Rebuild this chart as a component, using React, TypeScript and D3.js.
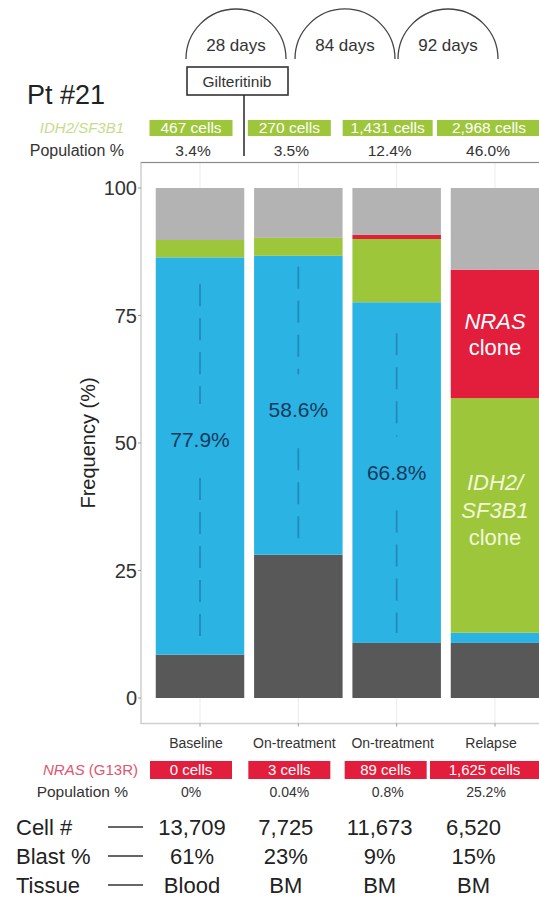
import React from "react";
import * as d3 from "d3";

// Time points (x categories)
const timepoints = ["Baseline", "On-treatment", "On-treatment", "Relapse"];

// Stacked segment values (% of cells), bottom to top
const otherLow = [8.5, 28.1, 10.8, 10.8];      // dark grey
const blastPop = [77.9, 58.6, 66.8, 2.0];      // blue
const idh2Pop = [3.4, 3.5, 12.4, 46.0];        // green (IDH2/SF3B1)
const nrasPop = [0, 0.04, 0.8, 25.2];          // red (NRAS)

// Value labels inside blue segments (null = none)
const blastLabels = ["77.9%", "58.6%", "66.8%", null];

// Annotation rows
const idh2Cells = ["467 cells", "270 cells", "1,431 cells", "2,968 cells"];
const idh2PopLabels = ["3.4%", "3.5%", "12.4%", "46.0%"];
const nrasCells = ["0 cells", "3 cells", "89 cells", "1,625 cells"];
const nrasPopLabels = ["0%", "0.04%", "0.8%", "25.2%"];
const cellCounts = ["13,709", "7,725", "11,673", "6,520"];
const blastPct = ["61%", "23%", "9%", "15%"];
const tissue = ["Blood", "BM", "BM", "BM"];
const intervals = ["28 days", "84 days", "92 days"];
const yTicks = [0, 25, 50, 75, 100];

const COLORS = {
  other: "#585858",
  blast: "#2BB3E3",
  idh2: "#9DC63B",
  nras: "#E31D3C",
  rest: "#B3B3B3",
};

const W = 539;
const H = 897;
const FONT = "'Liberation Sans', Arial, Helvetica, sans-serif";

export default function App() {
  const panel = { left: 141, right: 554, top: 162.5, bottom: 723.5 };

  const x = d3
    .scaleBand<number>()
    .domain(d3.range(timepoints.length))
    .range([panel.left, panel.right])
    .paddingInner(0.1)
    .paddingOuter(0.15);

  const y = d3.scaleLinear().domain([-5, 105]).range([panel.bottom, panel.top]);

  const bw = x.bandwidth();
  const cx = (i: number) => (x(i) as number) + bw / 2;

  // Build stacked rows
  const rows = timepoints.map((_, i) => {
    const rest = 100 - otherLow[i] - blastPop[i] - idh2Pop[i] - nrasPop[i];
    return { other: otherLow[i], blast: blastPop[i], idh2: idh2Pop[i], nras: nrasPop[i], rest };
  });
  const keys = ["other", "blast", "idh2", "nras", "rest"] as const;
  const stacked = d3.stack<any>().keys(keys as any)(rows);

  // horizontal shift of the annotation rows relative to bar centers
  const topShift = -9;
  const arcCenters = [236, 345, 448];
  const arcR = 50;
  const arcBase = 59;

  const arcPath = (c: number) => {
    const p = d3.path();
    p.arc(c, arcBase, arcR, Math.PI, 2 * Math.PI);
    return p.toString();
  };

  // per-bar placement of the blue value labels (offset from segment middle, px)
  const labelNudge = [-16, 5, 0];
  const dashTopGap = [27, 11, 31];

  return (
    <svg
      width={W}
      height={H}
      style={{ position: "absolute", left: 0, top: 0, background: "#fff" }}
      fontFamily={FONT}
    >
      <rect x={0} y={0} width={W} height={H} fill="#fff" />

      {/* Interval arcs */}
      {intervals.map((t, i) => (
        <g key={"arc" + i}>
          <path d={arcPath(arcCenters[i])} fill="none" stroke="#444" strokeWidth={1.3} />
          <text x={arcCenters[i]} y={51} textAnchor="middle" fontSize={17} fill="#333">
            {t}
          </text>
        </g>
      ))}

      {/* Treatment box */}
      <rect x={187} y={67} width={101} height={28} fill="#fff" stroke="#333" strokeWidth={1.6} />
      <text x={237} y={87} textAnchor="middle" fontSize={15.5} fill="#333">
        Gilteritinib
      </text>
      <line x1={244} x2={244} y1={95} y2={156} stroke="#333" strokeWidth={1.6} />

      <text x={27} y={104} fontSize={27} fill="#222">
        Pt #21
      </text>

      {/* IDH2/SF3B1 row */}
      <text x={124} y={133} textAnchor="end" fontSize={15} fontStyle="italic" fill="#C5DD8A">
        IDH2/SF3B1
      </text>
      <text x={124} y={156} textAnchor="end" fontSize={16} fill="#333">
        Population %
      </text>
      {idh2Cells.map((t, i) => {
        const c = cx(i) + topShift;
        const w = i === 3 ? 104 : i === 2 ? 90 : 83;
        const cc = i === 3 ? 437 + w / 2 : c;
        return (
          <g key={"ic" + i}>
            <rect x={cc - w / 2} y={120} width={w} height={16} fill={COLORS.idh2} />
            <text x={cc} y={133} textAnchor="middle" fontSize={15.5} fill="#fff">
              {t}
            </text>
            <text x={c + 2} y={156} textAnchor="middle" fontSize={15.5} fill="#333">
              {idh2PopLabels[i]}
            </text>
          </g>
        );
      })}

      {/* Panel grid */}
      {timepoints.map((_, i) => (
        <line
          key={"vg" + i}
          x1={cx(i)}
          x2={cx(i)}
          y1={panel.top}
          y2={panel.bottom}
          stroke="#EBEBEB"
          strokeWidth={1}
        />
      ))}

      {/* Bars */}
      {stacked.map((layer) =>
        layer.map((d, i) => {
          const h = y(d[0]) - y(d[1]);
          if (h <= 0.05) return null;
          return (
            <rect
              key={layer.key + i}
              x={x(i)}
              y={y(d[1])}
              width={bw}
              height={h}
              fill={(COLORS as any)[layer.key]}
            />
          );
        })
      )}

      {/* Dashed guides and labels in blue segments */}
      {blastLabels.map((lab, i) => {
        if (!lab) return null;
        const lo = otherLow[i];
        const hi = otherLow[i] + blastPop[i];
        const yTop = y(hi) + dashTopGap[i];
        const yBot = y(lo) - 10;
        const labY = y(lo + blastPop[i] * 0.5) + labelNudge[i];
        return (
          <g key={"bl" + i}>
            <line
              x1={cx(i)}
              x2={cx(i)}
              y1={yTop}
              y2={labY - 36}
              stroke="#1F7DB0"
              strokeOpacity={0.75}
              strokeWidth={1.8}
              strokeDasharray="22 12"
            />
            <line
              x1={cx(i)}
              x2={cx(i)}
              y1={labY + 38}
              y2={yBot}
              stroke="#1F7DB0"
              strokeOpacity={0.75}
              strokeWidth={1.8}
              strokeDasharray="22 12"
            />
            <text x={cx(i)} y={labY + 7} textAnchor="middle" fontSize={21} fill="#153A5C">
              {lab}
            </text>
          </g>
        );
      })}

      {/* Clone labels in relapse bar */}
      {(() => {
        const i = 3;
        const nrasMid = y(otherLow[i] + blastPop[i] + idh2Pop[i] + nrasPop[i] / 2);
        const idhMid = y(otherLow[i] + blastPop[i] + idh2Pop[i] / 2);
        return (
          <g fontSize={22} textAnchor="middle">
            <text x={cx(i)} y={nrasMid - 5} fill="#fff" fontStyle="italic">
              NRAS
            </text>
            <text x={cx(i)} y={nrasMid + 21} fill="#fff">
              clone
            </text>
            <text x={cx(i)} y={idhMid - 25} fill="#F3F8D8" fontStyle="italic">
              IDH2/
            </text>
            <text x={cx(i)} y={idhMid + 3} fill="#F3F8D8" fontStyle="italic">
              SF3B1
            </text>
            <text x={cx(i)} y={idhMid + 30} fill="#F3F8D8">
              clone
            </text>
          </g>
        );
      })()}

      {/* Panel border */}
      <rect
        x={panel.left}
        y={panel.top}
        width={panel.right - panel.left}
        height={panel.bottom - panel.top}
        fill="none"
        stroke="#CFCFCF"
        strokeWidth={1.5}
      />
      <line x1={panel.left} x2={W} y1={panel.top} y2={panel.top} stroke="#8A8A8A" strokeWidth={1.2} />

      {/* Y axis */}
      {yTicks.map((t) => (
        <g key={"yt" + t}>
          <line x1={panel.left - 3} x2={panel.left} y1={y(t)} y2={y(t)} stroke="#999" />
          <text x={panel.left - 4} y={y(t) + 7} textAnchor="end" fontSize={20} fill="#333">
            {t}
          </text>
        </g>
      ))}
      <text
        transform={`translate(${95},${y(50)}) rotate(-90)`}
        textAnchor="middle"
        fontSize={20}
        fill="#222"
      >
        Frequency (%)
      </text>

      {/* X axis */}
      {timepoints.map((t, i) => (
        <g key={"xt" + i}>
          <line x1={cx(i)} x2={cx(i)} y1={panel.bottom} y2={panel.bottom + 3} stroke="#999" />
          <text x={cx(i) - 4} y={748} textAnchor="middle" fontSize={14} fill="#333">
            {t}
          </text>
        </g>
      ))}

      {/* NRAS row */}
      <text x={138} y={775} textAnchor="end" fontSize={15} fill="#E0556F">
        <tspan fontStyle="italic">NRAS</tspan> (G13R)
      </text>
      <text x={128} y={797} textAnchor="end" fontSize={15.5} fill="#333">
        Population %
      </text>
      {nrasCells.map((t, i) => {
        const c = cx(i) + topShift;
        const w = i === 3 ? 109 : 82;
        const cc = i === 3 ? 430 + w / 2 : i === 2 ? c - 2 : c;
        return (
          <g key={"nc" + i}>
            <rect x={cc - w / 2} y={761} width={w} height={18} fill={COLORS.nras} />
            <text x={cc} y={775} textAnchor="middle" fontSize={15} fill="#fff">
              {t}
            </text>
            <text x={c} y={797} textAnchor="middle" fontSize={14} fill="#333">
              {nrasPopLabels[i]}
            </text>
          </g>
        );
      })}

      {/* Sample summary rows */}
      {[
        { label: "Cell #", vals: cellCounts, yy: 835 },
        { label: "Blast %", vals: blastPct, yy: 864 },
        { label: "Tissue", vals: tissue, yy: 893 },
      ].map((r) => (
        <g key={r.label}>
          <text x={16} y={r.yy} fontSize={22} fill="#222">
            {r.label}
          </text>
          <line x1={108} x2={143} y1={r.yy - 8} y2={r.yy - 8} stroke="#333" strokeWidth={1.3} />
          {r.vals.map((v, i) => (
            <text
              key={r.label + i}
              x={cx(i) - 8 - i * 4.5}
              y={r.yy}
              textAnchor="middle"
              fontSize={22}
              fill="#222"
            >
              {v}
            </text>
          ))}
        </g>
      ))}
    </svg>
  );
}
